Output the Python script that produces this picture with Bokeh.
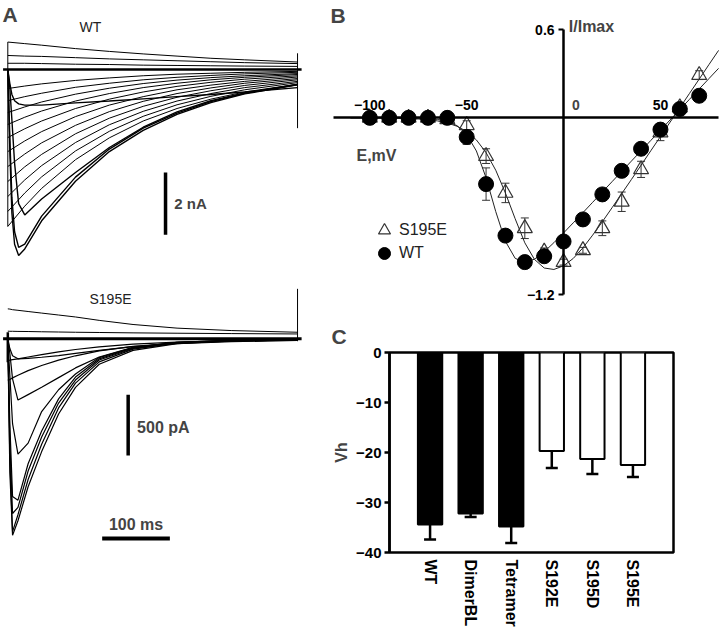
from bokeh.plotting import figure
from bokeh.layouts import row, column
from bokeh.models import (Range1d, FactorRange, LinearAxis, FixedTicker, Label, Legend,
                          LegendItem, Whisker, TeeHead, ColumnDataSource)
from bokeh.embed import file_html
from bokeh.resources import INLINE

FONT = "Liberation Sans"

# ---------------- Panel A: current traces ----------------
# WT traces: time (ms), current (nA)
wt_t_fit = [0, 25, 50, 100, 150, 200, 250, 300, 350, 428]
wt_outward = [
    [0.88, 0.83, 0.78, 0.67, 0.58, 0.50, 0.43, 0.36, 0.31, 0.24],
    [0.45, 0.43, 0.42, 0.38, 0.34, 0.31, 0.28, 0.25, 0.22, 0.19],
    [0.20, 0.20, 0.19, 0.17, 0.16, 0.14, 0.13, 0.12, 0.11, 0.10],
]
wt_fits = [
    [-0.61, -0.53, -0.46, -0.35, -0.27, -0.20, -0.15, -0.12, -0.09, -0.06],
    [-1.00, -0.87, -0.76, -0.57, -0.44, -0.33, -0.25, -0.19, -0.14, -0.09],
    [-1.38, -1.20, -1.04, -0.79, -0.60, -0.45, -0.34, -0.26, -0.20, -0.13],
    [-1.76, -1.53, -1.33, -1.01, -0.77, -0.58, -0.44, -0.33, -0.25, -0.16],
    [-2.18, -1.90, -1.65, -1.25, -0.95, -0.72, -0.54, -0.41, -0.31, -0.20],
    [-2.63, -2.29, -1.99, -1.51, -1.14, -0.87, -0.65, -0.50, -0.38, -0.24],
    [-3.11, -2.71, -2.35, -1.79, -1.35, -1.02, -0.77, -0.59, -0.44, -0.29],
    [-3.59, -3.12, -2.72, -2.06, -1.56, -1.18, -0.89, -0.68, -0.51, -0.33],
    [-4.07, -3.54, -3.08, -2.34, -1.77, -1.34, -1.01, -0.77, -0.58, -0.38],
    [-4.55, -3.96, -3.44, -2.61, -1.98, -1.50, -1.13, -0.86, -0.65, -0.42],
    [-5.03, -4.38, -3.81, -2.89, -2.19, -1.65, -1.25, -0.95, -0.72, -0.47],
]
wt_t_raw = [0, 3, 6, 10, 16, 25, 50, 100, 150, 200, 250, 300, 350, 428]
wt_raw = [
    [0, -2.6, -4.6, -5.6, -5.96, -5.75, -4.85, -3.58, -2.63, -1.95, -1.44, -1.06, -0.78, -0.49],
    [0, -2.2, -4.1, -5.2, -5.70, -5.60, -4.70, -3.45, -2.55, -1.88, -1.40, -1.03, -0.76, -0.48],
    [0, -0.6, -1.6, -3.0, -4.30, -4.66, -4.15, -3.30, -2.50, -1.85, -1.36, -1.00, -0.75, -0.48],
    [0, -0.45, -0.80, -1.00, -1.10, -1.14, -1.14, -1.07, -1.01, -0.94, -0.87, -0.80, -0.72, -0.58],
]
wt_tail = [0.52, -1.88]

# S195E traces: time (ms), current (pA)
s195e_t = [0, 3, 7, 15, 30, 50, 75, 100, 135, 185, 250, 330, 428]
s195e_outward = [
    [247, 245, 240, 235, 225, 212, 196, 180, 152, 118, 88, 68, 54],
    [63, 62, 62, 61, 60, 58, 56, 54, 52, 49, 46, 43, 40],
]
s195e_traces = [
    [0, -1100, -1620, -1500, -1220, -930, -620, -400, -210, -95, -40, -18, -8],
    [0, -1000, -1590, -1450, -1160, -870, -570, -365, -190, -85, -36, -16, -7],
    [0, -850, -1440, -1390, -1090, -810, -530, -340, -175, -80, -34, -15, -7],
    [0, -700, -1300, -1330, -1030, -760, -495, -315, -165, -75, -32, -14, -6],
    [0, -300, -700, -950, -860, -600, -420, -290, -155, -72, -30, -13, -6],
    [0, -120, -330, -505, -460, -400, -320, -240, -150, -70, -30, -13, -6],
    [0, -80, -140, -165, -162, -152, -138, -120, -95, -65, -40, -24, -14],
    [-178, -176, -172, -165, -150, -130, -108, -88, -66, -44, -27, -15, -8],
    [-343, -335, -322, -300, -262, -220, -176, -140, -100, -62, -35, -19, -10],
]
s195e_onset = [54, -193]
s195e_tail = [-20, 412]

# ---------------- Panel B: I/Imax vs E ----------------
E_mV = [-100, -90, -80, -70, -60, -50, -40, -30, -20, -10, 0, 10, 20, 30, 40, 50, 60, 70]
wt_iv = [0, 0, 0, 0, 0, -0.13, -0.45, -0.80, -0.98, -0.94, -0.84, -0.69, -0.52, -0.36, -0.21, -0.08, 0.06, 0.15]
wt_iv_err = [0.01, 0.01, 0.01, 0.01, 0.01, 0.05, 0.11, 0.04, 0.02, 0.02, 0.02, 0.02, 0.02, 0.02, 0.02, 0.02, 0.02, 0.02]
s195e_iv = [0, 0, 0, 0, -0.01, -0.05, -0.26, -0.51, -0.75, -0.91, -0.98, -0.90, -0.75, -0.57, -0.35, -0.10, 0.07, 0.29]
s195e_iv_err = [0.01, 0.01, 0.01, 0.01, 0.01, 0.03, 0.05, 0.066, 0.07, 0.026, 0.02, 0.02, 0.05, 0.066, 0.055, 0.055, 0.03, 0.03]
E_fit = [-110, -105, -100, -95, -90, -85, -80, -75, -70, -65, -60, -55, -50, -45, -40, -35, -30,
         -25, -20, -15, -10, -5, 0, 5, 10, 15, 20, 25, 30, 35, 40, 45, 50, 55, 60, 65, 70, 75, 80]
wt_fit = [0, 0, 0, 0, 0, -0.001, -0.001, -0.002, -0.005, -0.011, -0.025, -0.053, -0.113, -0.225,
          -0.407, -0.637, -0.839, -0.954, -0.983, -0.960, -0.910, -0.848, -0.782, -0.713, -0.644,
          -0.574, -0.504, -0.434, -0.364, -0.294, -0.224, -0.154, -0.084, -0.014, 0.056, 0.126,
          0.196, 0.266, 0.336]
s195e_fit = [0, 0, -0.001, -0.001, -0.002, -0.003, -0.005, -0.008, -0.013, -0.021, -0.035, -0.057,
             -0.093, -0.150, -0.236, -0.356, -0.511, -0.685, -0.849, -0.962, -1.020, -1.030, -1.005,
             -0.955, -0.883, -0.797, -0.706, -0.611, -0.515, -0.419, -0.322, -0.224, -0.127, -0.029,
             0.068, 0.166, 0.263, 0.361, 0.458]

# ---------------- Panel C: Vh ----------------
vh_groups = ["WT", "DimerBL", "Tetramer", "S192E", "S195D", "S195E"]
vh_values = [-34.4, -32.2, -34.8, -19.7, -21.3, -22.5]
vh_err = [3.0, 0.7, 3.3, 3.4, 3.0, 2.4]


def blank(fig):
    fig.grid.visible = False
    fig.outline_line_color = None
    return fig


def make_trace_fig(h, yr):
    return blank(figure(width=330, height=h, x_range=Range1d(-10.8, 476.7), y_range=yr,
                        x_axis_location=None, y_axis_location=None, min_border=0,
                        frame_align=False, output_backend="svg", toolbar_location=None))


# ---------- A: WT ----------
pa1 = make_trace_fig(268, Range1d(-6.378, 2.212))
t0, t1 = wt_t_raw[0], wt_t_raw[-1]
pa1.segment(x0=[t0 - 7], y0=[0], x1=[t1 + 6], y1=[0], line_color="black", line_width=2.5)
pa1.multi_line(xs=[wt_t_fit] * len(wt_outward), ys=wt_outward, line_color="black", line_width=1)
pa1.multi_line(xs=[wt_t_fit] * len(wt_fits), ys=wt_fits, line_color="black", line_width=1)
pa1.multi_line(xs=[wt_t_raw] * len(wt_raw), ys=wt_raw, line_color="black", line_width=1.4)
pa1.segment(x0=[t0], y0=[wt_outward[0][0]], x1=[t0], y1=[wt_fits[-1][0]], line_color="black", line_width=1)
pa1.segment(x0=[t1], y0=[wt_tail[0]], x1=[t1], y1=[wt_tail[1]], line_color="black", line_width=1)
pa1.segment(x0=[233], y0=[-3.3], x1=[233], y1=[-5.3], line_color="black", line_width=3.5)
pa1.add_layout(Label(x=246, y=-4.3, text="2 nA", text_font=FONT, text_font_size="15px",
                     text_font_style="bold", text_baseline="middle"))
pa1.add_layout(Label(x=122, y=1.35, text="WT", text_font=FONT, text_font_size="14px",
                     text_align="center", text_baseline="middle", text_color="#222"))
pa1.add_layout(Label(x=-10.8, y=2.212, x_offset=2, y_offset=-2, text="A", text_font=FONT,
                     text_font_size="21px", text_font_style="bold", text_baseline="top"))

# ---------- A: S195E ----------
pa2 = make_trace_fig(362, Range1d(-2404.7, 579.6))
s0, s1 = s195e_t[0], s195e_t[-1]
pa2.segment(x0=[s0 - 7], y0=[0], x1=[s1 + 6], y1=[0], line_color="black", line_width=3)
pa2.multi_line(xs=[s195e_t] * len(s195e_outward), ys=s195e_outward, line_color="black", line_width=1)
pa2.multi_line(xs=[s195e_t] * len(s195e_traces), ys=s195e_traces, line_color="black", line_width=1.2)
pa2.segment(x0=[s0], y0=[s195e_onset[0]], x1=[s0], y1=[s195e_onset[1]], line_color="black", line_width=2.5)
pa2.segment(x0=[s1], y0=[s195e_tail[0]], x1=[s1], y1=[s195e_tail[1]], line_color="black", line_width=1)
pa2.segment(x0=[177.8], y0=[-462], x1=[177.8], y1=[-962], line_color="black", line_width=3.5)
pa2.segment(x0=[139.4], y0=[-1646], x1=[239.4], y1=[-1646], line_color="black", line_width=4)
pa2.add_layout(Label(x=191, y=-735, text="500 pA", text_font=FONT, text_font_size="16px",
                     text_font_style="bold", text_baseline="middle"))
pa2.add_layout(Label(x=189.4, y=-1534, text="100 ms", text_font=FONT, text_font_size="16px",
                     text_font_style="bold", text_baseline="middle", text_align="center"))
pa2.add_layout(Label(x=151.7, y=332, text="S195E", text_font=FONT, text_font_size="14px",
                     text_align="center", text_baseline="middle", text_color="#222"))

# ---------- B ----------
pb = figure(width=390, height=306, x_range=Range1d(-120.3, 81.0), y_range=Range1d(-1.2815, 0.797),
            x_axis_location=None, y_axis_location=None, min_border=0, frame_align=False,
            output_backend="svg", toolbar_location=None)
pb.grid.visible = False
pb.outline_line_color = None
xa = LinearAxis(fixed_location=0, bounds=(-118.8, 80.2), ticker=FixedTicker(ticks=[-100, -50, 50]),
                axis_line_width=2.5, major_tick_out=0, major_tick_in=0, minor_tick_out=0,
                minor_tick_in=0, major_label_standoff=8, major_label_text_font=FONT,
                major_label_text_font_size="14px", major_label_text_font_style="bold",
                major_label_text_color="black")
pb.add_layout(xa, "above")
ya = LinearAxis(fixed_location=0, bounds=(-1.2, 0.6), ticker=FixedTicker(ticks=[-1.2, 0.6]),
                axis_line_width=2.5, major_tick_out=5, major_tick_in=0, major_tick_line_width=2,
                minor_tick_out=0, minor_tick_in=0, major_label_standoff=4,
                major_label_text_font=FONT, major_label_text_font_size="14px",
                major_label_text_font_style="bold", major_label_text_color="black")
pb.add_layout(ya, "left")

pb.line(E_fit, wt_fit, line_color="#222", line_width=1)
pb.line(E_fit, s195e_fit, line_color="#222", line_width=1)
src_s = ColumnDataSource(dict(E=E_mV, i=s195e_iv,
                              up=[v + e for v, e in zip(s195e_iv, s195e_iv_err)],
                              lo=[v - e for v, e in zip(s195e_iv, s195e_iv_err)]))
src_w = ColumnDataSource(dict(E=E_mV, i=wt_iv,
                              up=[v + e for v, e in zip(wt_iv, wt_iv_err)],
                              lo=[v - e for v, e in zip(wt_iv, wt_iv_err)]))
for src in (src_s, src_w):
    pb.add_layout(Whisker(source=src, base="E", upper="up", lower="lo", line_color="#333",
                          line_width=1, upper_head=TeeHead(size=8, line_color="#333", line_width=1),
                          lower_head=TeeHead(size=8, line_color="#333", line_width=1)))
tri = pb.scatter("E", "i", source=src_s, marker="triangle", size=15, line_color="#333",
                 line_width=1.2, fill_alpha=0)
circ = pb.scatter("E", "i", source=src_w, marker="circle", size=15, line_color="black",
                  fill_color="black")
leg_style = dict(glyph_width=30, glyph_height=36, spacing=0, label_standoff=0, padding=0, margin=0,
                 border_line_color=None, background_fill_alpha=0, label_text_font=FONT,
                 label_text_font_size="16px", label_text_color="#222")
pb.add_layout(Legend(items=[LegendItem(label="S195E", renderers=[tri])], location=(39, 58), **leg_style))
pb.add_layout(Legend(items=[LegendItem(label="WT", renderers=[circ])], location=(39, 35), **leg_style))
pb.add_layout(Label(x=6.3, y=0, y_offset=8, text="0", text_font=FONT, text_font_size="14px",
                    text_font_style="bold", text_align="center", text_baseline="bottom"))
pb.add_layout(Label(x=2.7, y=0.617, text="I/Imax", text_font=FONT, text_font_size="16px",
                    text_font_style="bold", text_baseline="middle"))
pb.add_layout(Label(x=-106.9, y=-0.258, text="E,mV", text_font=FONT, text_font_size="16px",
                    text_font_style="bold", text_baseline="middle"))
pb.add_layout(Label(x=-120.3, y=0.797, y_offset=-3, text="B", text_font=FONT, text_font_size="21px",
                    text_font_style="bold", text_baseline="top"))

# ---------- C ----------
pc = figure(width=390, height=324,
            x_range=FactorRange(factors=vh_groups, range_padding=0.5, range_padding_units="absolute"),
            y_range=Range1d(-40, 0), min_border_left=54, min_border_right=47,
            min_border_top=46, min_border_bottom=78, frame_align=False,
            output_backend="svg", toolbar_location=None)
pc.title.text = "C"
pc.title.align = "left"
pc.title.offset = -58
pc.title.text_font = FONT
pc.title.text_font_size = "21px"
pc.title.text_font_style = "bold"
pc.grid.visible = False
pc.outline_line_color = "black"
pc.outline_line_width = 2.5
fills = ["black" if i < 3 else "white" for i in range(len(vh_groups))]
pc.vbar(x=vh_groups, top=vh_values, bottom=0, width=0.6, fill_color=fills, line_color="black",
        line_width=2)
src_c = ColumnDataSource(dict(g=vh_groups, v=vh_values, lo=[v - e for v, e in zip(vh_values, vh_err)]))
pc.add_layout(Whisker(source=src_c, base="g", upper="v", lower="lo", line_color="black",
                      line_width=2.5, upper_head=None,
                      lower_head=TeeHead(size=12, line_color="black", line_width=2.5)))
pc.yaxis.ticker = FixedTicker(ticks=[-40, -30, -20, -10, 0])
pc.yaxis.axis_label = "Vh"
pc.yaxis.axis_label_text_font = FONT
pc.yaxis.axis_label_text_font_size = "16px"
pc.yaxis.axis_label_text_font_style = "bold"
pc.yaxis.axis_label_standoff = 3
pc.yaxis.major_label_text_font = FONT
pc.yaxis.major_label_text_font_size = "15px"
pc.yaxis.major_label_text_font_style = "bold"
pc.yaxis.major_label_text_color = "black"
pc.yaxis.major_tick_out = 5
pc.yaxis.major_tick_in = 0
pc.yaxis.major_tick_line_width = 2.5
pc.yaxis.minor_tick_out = 0
pc.yaxis.minor_tick_in = 0
pc.yaxis.axis_line_width = 2.5
pc.yaxis.major_label_standoff = 3
pc.xaxis.major_label_orientation = "vertical"
pc.xaxis.major_label_text_font = FONT
pc.xaxis.major_label_text_font_size = "16px"
pc.xaxis.major_label_text_font_style = "bold"
pc.xaxis.major_label_text_color = "black"
pc.xaxis.major_tick_out = 0
pc.xaxis.major_tick_in = 0
pc.xaxis.axis_line_color = None
pc.xaxis.major_label_standoff = 7

layout = row(column(pa1, pa2), column(pb, pc))
open("out.html", "w").write(file_html(layout, INLINE))
